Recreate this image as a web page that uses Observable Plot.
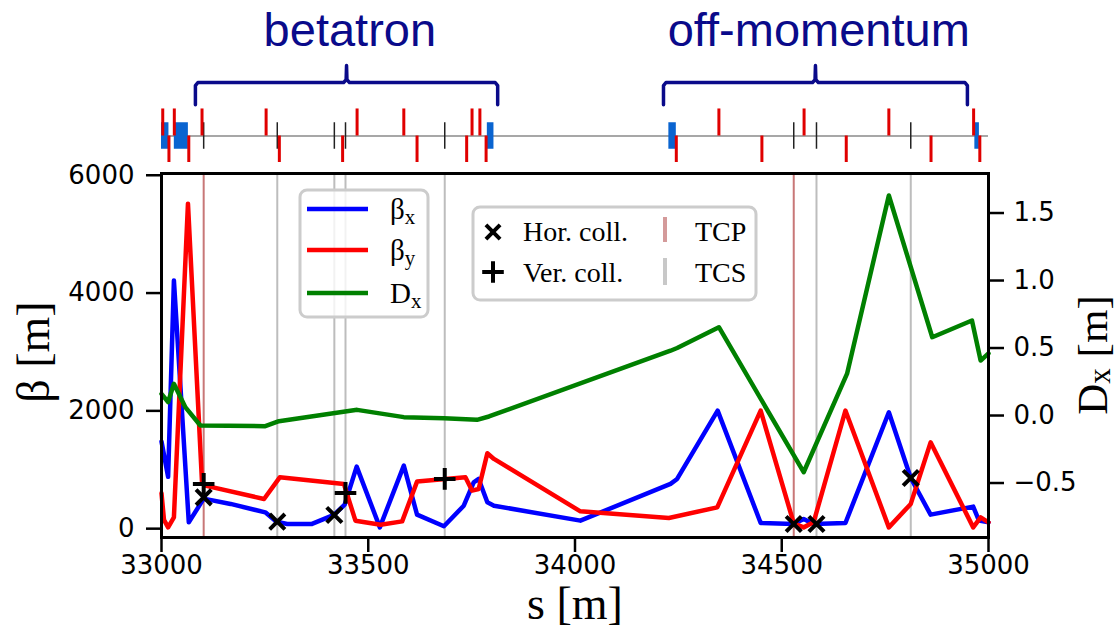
<!DOCTYPE html>
<html><head><meta charset="utf-8">
<script src="https://cdn.jsdelivr.net/npm/d3@7"></script>
<script src="https://cdn.jsdelivr.net/npm/@observablehq/plot@0.6"></script>
<style>body{margin:0;background:#fff} svg{display:block}</style>
</head><body><div id="chart"></div>
<script>
// ---------- data ----------
// top layout schematic (s positions in m)
const redAboveS = [33003, 33031, 33098, 33253, 33473, 33586, 33751, 33770, 34348, 34554, 34759, 34964];
const redBelowS = [33018, 33066, 33285, 33438, 33618, 33738, 33785, 34245, 34452, 34656, 34861, 34979];
const blueStartS = [33000, 33031, 33788, 34227, 34967];
const blueEndS   = [33018, 33065, 33804, 34245, 34978];
const tcpS = [33102, 34529];
const tcsS = [33280, 33418, 33445, 33685, 34584, 34812];
const sectionNames = ["betatron", "off-momentum"];
const sectionStartS = [33082, 34214];
const sectionEndS   = [33813, 34949];

// beta_x
const sBx = [33000, 33016, 33030, 33066, 33102, 33167, 33251, 33278, 33304, 33364, 33417, 33443, 33472, 33528, 33586, 33618, 33683, 33731, 33755, 33767, 33788, 33804, 34013, 34231, 34247, 34345, 34449, 34529, 34553, 34577, 34654, 34759, 34812, 34860, 34963, 34977, 35000];
const betaX = [1480, 880, 4214, 107, 510, 420, 277, 119, 80, 80, 233, 408, 1054, 22, 1070, 238, 40, 390, 787, 844, 447, 390, 136, 760, 844, 2005, 97, 80, 165, 80, 97, 1977, 861, 238, 374, 136, 107];
// beta_y
const sBy = [33000, 33006, 33016, 33030, 33064, 33098, 33106, 33248, 33286, 33441, 33469, 33530, 33582, 33618, 33735, 33751, 33767, 33788, 33804, 34013, 34227, 34344, 34449, 34529, 34553, 34577, 34654, 34759, 34812, 34860, 34963, 34981, 35000];
const betaY = [600, 150, 22, 192, 5517, 787, 730, 504, 872, 760, 136, 68, 124, 799, 872, 646, 674, 1280, 1184, 294, 182, 362, 2005, 90, 22, 107, 2005, 22, 420, 1466, 22, 192, 107];
// D_x (m)
const sDx = [33000, 33016, 33030, 33058, 33094, 33251, 33284, 33473, 33586, 33683, 33763, 33792, 34231, 34247, 34348, 34553, 34658, 34759, 34864, 34960, 34981, 35000];
const dispX = [0.16, 0.10, 0.235, 0.06, -0.074, -0.079, -0.042, 0.042, -0.012, -0.020, -0.032, -0.007, 0.48, 0.50, 0.654, -0.42, 0.31, 1.63, 0.58, 0.704, 0.407, 0.46];

// collimator markers
const horCollS = [33102, 33280, 33418, 34529, 34584, 34812];
const horCollBeta = [532, 119, 233, 80, 80, 861];
const verCollS = [33102, 33445, 33685];
const verCollBeta = [760, 607, 845];

// axes
const xTicks = [33000, 33500, 34000, 34500, 35000];
const yTicks = [0, 2000, 4000, 6000];
const dxTicks = [-0.5, 0, 0.5, 1.0, 1.5];

// legend labels
const seriesBase = ["β", "β", "D"];
const seriesSub = ["x", "y", "x"];
const collLabels = ["Hor. coll.", "Ver. coll."];
const lineLabels = ["TCP", "TCS"];

// ---------- helpers ----------
const W = 1119;
const xDomain = [33000, 35000];
const dxToBeta = d => 1921 + 2292 * d;      // secondary (right) axis calibration
const betaToDx = b => (b - 1921) / 2292;
const navy = "#0a0a8a";
const colBx = "#0000ff", colBy = "#ff0000", colDx = "#008000";
const LW = 4.5;

// brace geometry
const braceRows = [];
sectionNames.forEach((g, i) => {
  const a = sectionStartS[i], b = sectionEndS[i], m = (a + b) / 2;
  const pts = [[a, 1.18], [a, 1.9], [a + 6, 2.02], [m - 7, 2.02], [m - 1, 2.12], [m, 2.66],
               [m + 1, 2.12], [m + 7, 2.02], [b - 6, 2.02], [b, 1.9], [b, 1.18]];
  pts.forEach(([x, y]) => braceRows.push({g, x, y}));
});
const sections = sectionNames.map((n, i) => ({name: n, mid: (sectionStartS[i] + sectionEndS[i]) / 2 + 8}));

// ---------- top schematic ----------
const topPlot = Plot.plot({
  width: W, height: 163,
  marginLeft: 161, marginRight: 131, marginTop: 0, marginBottom: 0,
  x: {domain: xDomain, axis: null},
  y: {domain: [-1, 1], range: [162, 109], axis: null},
  style: {background: "white", overflow: "visible"},
  marks: [
    Plot.ruleY([0], {stroke: "#8a8a8a", strokeWidth: 1.5}),
    Plot.rect(blueStartS.map((s, i) => ({x1: s, x2: blueEndS[i]})), {x1: "x1", x2: "x2", y1: -0.5, y2: 0.5, fill: "#0a64d0"}),
    Plot.ruleX([...tcpS, ...tcsS], {y1: -0.5, y2: 0.5, stroke: "#222", strokeWidth: 1.5}),
    Plot.ruleX(redAboveS, {y1: 0, y2: 1.02, stroke: "#e00000", strokeWidth: 3}),
    Plot.ruleX(redBelowS, {y1: -1, y2: 0, stroke: "#e00000", strokeWidth: 3}),
    Plot.line(braceRows, {x: "x", y: "y", z: "g", stroke: navy, strokeWidth: 3.5, strokeLinejoin: "round"}),
    Plot.text(sections, {x: "mid", y: 3.97, text: "name", fill: navy, fontSize: 47, fontFamily: "Liberation Sans"})
  ]
});

// ---------- main plot ----------
const bxRows = sBx.map((s, i) => ({s, v: betaX[i]}));
const byRows = sBy.map((s, i) => ({s, v: betaY[i]}));
const dxRows = sDx.map((s, i) => ({s, v: dxToBeta(dispX[i])}));
const horRows = horCollS.map((s, i) => ({s, v: horCollBeta[i]}));
const verRows = verCollS.map((s, i) => ({s, v: verCollBeta[i]}));

const main = Plot.plot({
  width: W, height: 469,
  marginTop: 10, marginBottom: 95, marginLeft: 161, marginRight: 131,
  x: {domain: xDomain},
  y: {domain: [-150, 6030]},
  style: {fontFamily: "DejaVu Sans", fontSize: "26px", color: "black", background: "white", overflow: "visible"},
  marks: [
    Plot.ruleX(tcpS, {stroke: "#b54a4a", strokeOpacity: 0.75, strokeWidth: 2}),
    Plot.ruleX(tcsS, {stroke: "#bdbdbd", strokeWidth: 2}),
    Plot.line(bxRows, {x: "s", y: "v", stroke: colBx, strokeWidth: LW, strokeLinejoin: "round"}),
    Plot.line(byRows, {x: "s", y: "v", stroke: colBy, strokeWidth: LW, strokeLinejoin: "round"}),
    Plot.line(dxRows, {x: "s", y: "v", stroke: colDx, strokeWidth: LW, strokeLinejoin: "round"}),
    Plot.dot(horRows, {x: "s", y: "v", symbol: "times", r: 7, stroke: "black", strokeWidth: 4}),
    Plot.dot(verRows, {x: "s", y: "v", symbol: "plus", r: 7, stroke: "black", strokeWidth: 4}),
    Plot.frame({stroke: "black", strokeWidth: 3}),
    Plot.axisX(xTicks, {tickSize: 15, tickPadding: 3, strokeWidth: 2.5, fontSize: 26, label: null, tickFormat: d => String(d)}),
    Plot.axisY(yTicks, {tickSize: 15, tickPadding: 12, strokeWidth: 2.5, fontSize: 26, label: null, tickFormat: d => String(d)}),
    Plot.axisY(dxTicks.map(dxToBeta), {anchor: "right", tickSize: 15, tickPadding: 10, strokeWidth: 2.5, fontSize: 26, label: null,
      tickFormat: v => d3.format(".1f")(betaToDx(v))})
  ]
});

// ---------- legends & labels (layout in px of main svg) ----------
const svg = d3.select(main);
const serif = "Liberation Serif";

function subText(sel, base, sub, size) {
  sel.append("tspan").text(base);
  sel.append("tspan").attr("font-size", size * 0.72).attr("dy", size * 0.16).text(sub);
}

// legend 1
const lg1 = svg.append("g").attr("text-anchor", "start");
lg1.append("rect").attr("x", 300).attr("y", 27).attr("width", 128).attr("height", 127).attr("rx", 7)
  .attr("fill", "white").attr("fill-opacity", 0.8).attr("stroke", "#cccccc").attr("stroke-width", 3);
const lg1Y = [46, 87, 130];
const lg1Col = [colBx, colBy, colDx];
seriesBase.forEach((b, i) => {
  lg1.append("line").attr("x1", 307).attr("x2", 368).attr("y1", lg1Y[i]).attr("y2", lg1Y[i])
    .attr("stroke", lg1Col[i]).attr("stroke-width", LW);
  const t = lg1.append("text").attr("x", 390).attr("y", lg1Y[i] + 10).attr("text-anchor", "start")
    .attr("font-family", serif).attr("font-size", 29).attr("fill", "black");
  subText(t, b, seriesSub[i], 29);
});

// legend 2
const lg2 = svg.append("g").attr("text-anchor", "start");
lg2.append("rect").attr("x", 473).attr("y", 44).attr("width", 283).attr("height", 93).attr("rx", 7)
  .attr("fill", "white").attr("fill-opacity", 0.8).attr("stroke", "#cccccc").attr("stroke-width", 3);
lg2.append("path").attr("transform", "translate(493,69)")
  .attr("d", d3.symbol(d3.symbolTimes, Math.PI * 42)()).attr("stroke", "black").attr("stroke-width", 4).attr("fill", "none");
lg2.append("path").attr("transform", "translate(493,109)")
  .attr("d", d3.symbol(d3.symbolPlus, Math.PI * 49)()).attr("stroke", "black").attr("stroke-width", 4).attr("fill", "none");
const lg2Y = [78, 119];
collLabels.forEach((l, i) => {
  lg2.append("text").attr("x", 523).attr("y", lg2Y[i]).attr("text-anchor", "start")
    .attr("font-family", serif).attr("font-size", 28).text(l);
});
lg2.append("line").attr("x1", 665).attr("x2", 665).attr("y1", 54).attr("y2", 79).attr("stroke", "#d49a9a").attr("stroke-width", 4);
lg2.append("line").attr("x1", 665).attr("x2", 665).attr("y1", 95).attr("y2", 122).attr("stroke", "#c8c8c8").attr("stroke-width", 4);
lineLabels.forEach((l, i) => {
  lg2.append("text").attr("x", 695).attr("y", lg2Y[i]).attr("text-anchor", "start")
    .attr("font-family", serif).attr("font-size", 28).text(l);
});

// axis labels
svg.append("text").attr("transform", "translate(33,189) rotate(-90)").attr("text-anchor", "middle")
  .attr("dominant-baseline", "central").attr("font-family", serif).attr("font-size", 46).text("β [m]");
svg.append("text").attr("x", 575).attr("y", 456).attr("text-anchor", "middle")
  .attr("font-family", serif).attr("font-size", 46).text("s [m]");
const dl = svg.append("text").attr("transform", "translate(1092,192) rotate(-90)").attr("text-anchor", "middle")
  .attr("dominant-baseline", "central").attr("font-family", serif).attr("font-size", 43);
subText(dl, "D", "x", 43);
dl.append("tspan").attr("dy", -43 * 0.16).text(" [m]");

const root = document.getElementById("chart");
root.appendChild(topPlot);
root.appendChild(main);
</script></body></html>
